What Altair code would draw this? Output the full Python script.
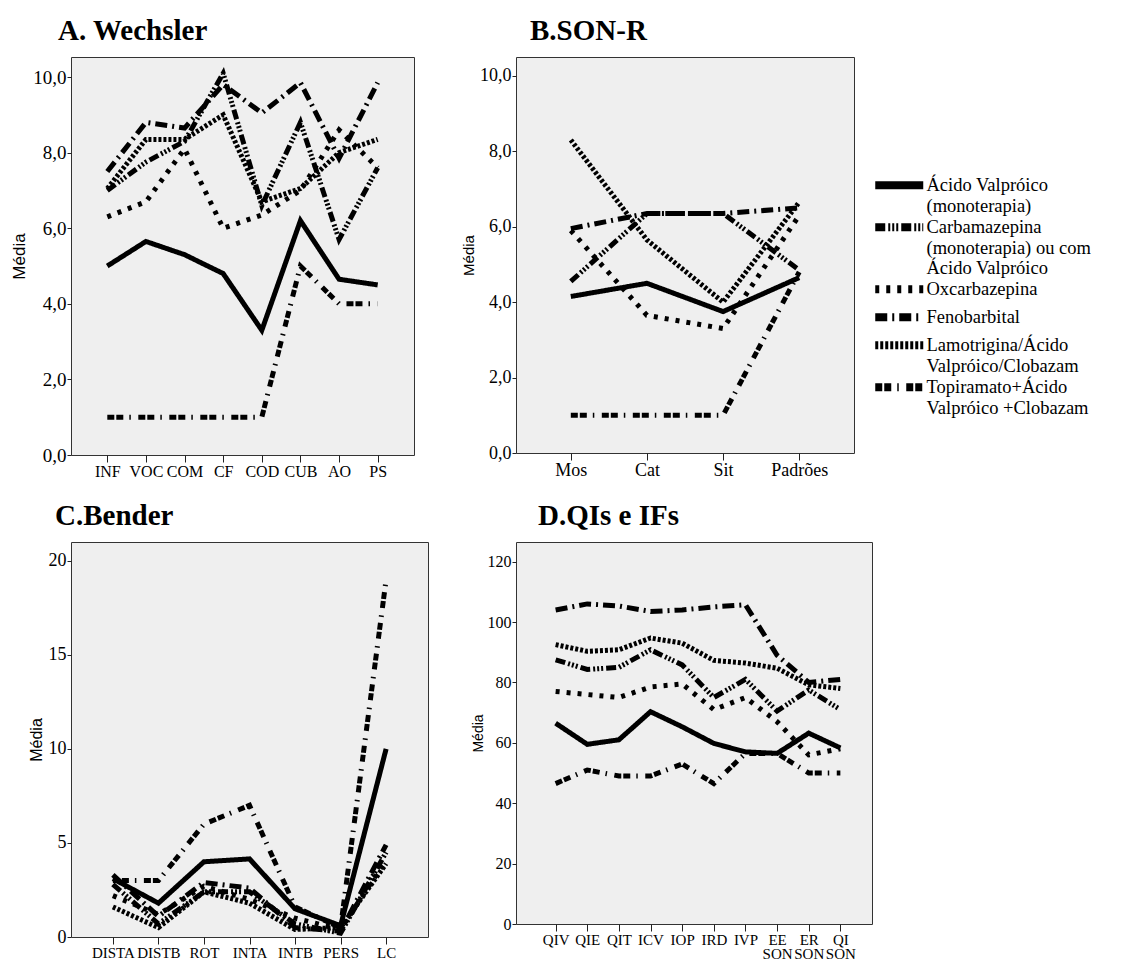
import altair as alt
import pandas as pd

# ---------------- data ----------------
series = [
    "Ácido Valpróico (monoterapia)",
    "Carbamazepina (monoterapia) ou com Ácido Valpróico",
    "Oxcarbazepina",
    "Fenobarbital",
    "Lamotrigina/Ácido Valpróico/Clobazam",
    "Topiramato+Ácido Valpróico +Clobazam",
]
legend_lines = [
    ["Ácido Valpróico", "(monoterapia)"],
    ["Carbamazepina", "(monoterapia) ou com", "Ácido Valpróico"],
    ["Oxcarbazepina"],
    ["Fenobarbital"],
    ["Lamotrigina/Ácido", "Valpróico/Clobazam"],
    ["Topiramato+Ácido", "Valpróico +Clobazam"],
]

# A. Wechsler
cats_a = ["INF", "VOC", "COM", "CF", "COD", "CUB", "AO", "PS"]
a_valproico = [5.0, 5.65, 5.3, 4.8, 3.3, 6.2, 4.65, 4.5]
a_carbamaz = [7.0, 7.75, 8.3, 10.1, 6.6, 8.8, 5.7, 7.6]
a_oxcarb = [6.3, 6.7, 8.1, 6.0, 6.35, 7.0, 8.6, 7.6]
a_fenob = [7.5, 8.8, 8.65, 9.8, 9.05, 9.85, 7.85, 9.85]
a_lamot = [7.05, 8.35, 8.35, 9.0, 6.7, 7.05, 8.0, 8.35]
a_topir = [1.0, 1.0, 1.0, 1.0, 1.0, 5.0, 4.0, 4.0]

# B. SON-R
cats_b = ["Mos", "Cat", "Sit", "Padrões"]
b_valproico = [4.15, 4.5, 3.75, 4.65]
b_carbamaz = [4.55, 6.35, 6.35, 4.85]
b_oxcarb = [5.9, 3.65, 3.3, 6.3]
b_fenob = [5.95, 6.35, 6.35, 6.5]
b_lamot = [8.3, 5.65, 4.0, 6.65]
b_topir = [1.0, 1.0, 1.0, 4.8]

# C. Bender
cats_c = ["DISTA", "DISTB", "ROT", "INTA", "INTB", "PERS", "LC"]
c_valproico = [3.1, 1.8, 4.0, 4.15, 1.5, 0.6, 10.0]
c_carbamaz = [2.8, 0.7, 2.4, 2.4, 0.7, 0.2, 4.5]
c_oxcarb = [2.2, 1.2, 2.7, 2.0, 1.0, 0.4, 4.1]
c_fenob = [3.3, 1.1, 2.9, 2.6, 0.5, 0.3, 4.9]
c_lamot = [1.6, 0.5, 2.4, 1.8, 0.4, 0.5, 3.9]
c_topir = [3.0, 3.0, 6.0, 7.0, 1.6, 0.5, 19.0]

# D. QIs e IFs
cats_d = ["QIV", "QIE", "QIT", "ICV", "IOP", "IRD", "IVP", "EE SON", "ER SON", "QI SON"]
d_valproico = [66.5, 59.5, 61.0, 70.3, 65.3, 59.8, 57.0, 56.5, 63.2, 58.3]
d_carbamaz = [87.5, 84.3, 85.0, 90.8, 85.8, 75.0, 81.0, 70.5, 77.5, 71.0]
d_oxcarb = [77.0, 76.0, 75.0, 78.5, 79.5, 71.0, 75.0, 67.0, 56.0, 58.0]
d_fenob = [104.0, 106.0, 105.3, 103.5, 104.0, 105.0, 105.7, 89.0, 80.0, 81.0]
d_lamot = [92.5, 90.3, 90.8, 94.7, 93.0, 87.3, 86.4, 84.7, 79.2, 78.0]
d_topir = [46.5, 51.0, 49.0, 49.0, 53.0, 46.5, 56.5, 56.5, 50.0, 50.0]

# ---------------- styles ----------------
dashes = [
    [1, 0],
    [10, 3, 2, 2, 2, 2, 2, 3],
    [4, 7],
    [12, 5, 2, 5],
    [3, 2],
    [7, 2, 7, 6, 1.5, 7.5],
]
BG = "#efefef"
SERIF = "Liberation Serif"
SANS = "Liberation Sans"


def long_df(cats, cols):
    rows = []
    for s, vals in zip(series, cols):
        for i, (c, v) in enumerate(zip(cats, vals)):
            rows.append({"cat": c, "val": v, "series": s, "idx": i})
    return pd.DataFrame(rows)


legend_expr = ""
for name, lines in zip(series, legend_lines):
    arr = "[" + ",".join("'" + l + "'" for l in lines) + "]"
    legend_expr += f"datum.value == '{name}' ? {arr} : "
legend_expr += "datum.label"


def panel(cats, cols, title, title_dx, ydom, yvals, ydec, w, h, pad,
          xfs, yfs, tfs, tpad, xlabel_expr=None, with_legend=False, xrange=None,
          xlh=15):
    df = long_df(cats, cols)
    if ydec:
        ylab = "replace(format(datum.value, '.1f'), '.', ',')"
    else:
        ylab = "format(datum.value, 'd')"
    xaxis_kw = dict(
        title=None, labelAngle=0, labelFont=SERIF, labelFontSize=xfs,
        labelColor="black", tickSize=7, tickColor="#222", labelPadding=1,
        domain=False, grid=False, labelLineHeight=xlh,
    )
    if xlabel_expr:
        xaxis_kw["labelExpr"] = xlabel_expr
    xscale_kw = dict(type="point", padding=pad)
    if xrange:
        xscale_kw["range"] = xrange
    if with_legend:
        leg = alt.Legend(
            title=None, orient="none", legendX=374, legendY=119, direction="vertical",
            gridAlign="none",
            symbolType="M-6,0H6", symbolStrokeWidth=8, symbolSize=64,
            symbolStrokeColor="black", symbolFillColor="transparent",
            labelFont=SERIF, labelFontSize=18.5, labelColor="black",
            labelOffset=18, rowPadding=-5, labelExpr=legend_expr, labelLimit=300,
        )
    else:
        leg = None
    return (
        alt.Chart(
            df,
            title=alt.Title(
                title, anchor="start", frame="group", dx=title_dx, offset=-12,
                font=SERIF, fontSize=29, fontWeight="bold", color="black",
                baseline="alphabetic",
            ),
        )
        .mark_line(strokeWidth=5, color="black", strokeJoin="miter", strokeCap="butt")
        .encode(
            x=alt.X("cat:N", sort=cats, scale=alt.Scale(**xscale_kw),
                    axis=alt.Axis(**xaxis_kw)),
            y=alt.Y("val:Q", scale=alt.Scale(domain=ydom, nice=False, zero=False),
                    axis=alt.Axis(values=yvals, labelExpr=ylab, title="Média",
                                  titleFont=SANS, titleFontSize=tfs, titleFontWeight="normal",
                                  titleColor="black", titlePadding=tpad,
                                  labelFont=SERIF, labelFontSize=yfs, labelColor="black",
                                  tickSize=4, tickColor="#222", labelPadding=1,
                                  domain=False, grid=False)),
            strokeDash=alt.StrokeDash(
                "series:N", sort=series,
                scale=alt.Scale(domain=series, range=dashes),
                legend=leg,
            ),
            order=alt.Order("idx:Q"),
        )
        .properties(width=w, height=h)
    )


pA = panel(cats_a, [a_valproico, a_carbamaz, a_oxcarb, a_fenob, a_lamot, a_topir],
           "A. Wechsler", -13, [0, 10.53], [0, 2, 4, 6, 8, 10], True, 343, 398, 0.94,
           16, 19, 17, 4)
pB = panel(cats_b, [b_valproico, b_carbamaz, b_oxcarb, b_fenob, b_lamot, b_topir],
           "B.SON-R", 14, [0, 10.5], [0, 2, 4, 6, 8, 10], True, 338, 396, 0.72,
           18, 18, 15, 3.5, with_legend=True)
pC = panel(cats_c, [c_valproico, c_carbamaz, c_oxcarb, c_fenob, c_lamot, c_topir],
           "C.Bender", -16, [0, 21], [0, 5, 10, 15, 20], False, 357, 395, 0.92,
           15, 18, 16, 3.6)
pD = panel(cats_d, [d_valproico, d_carbamaz, d_oxcarb, d_fenob, d_lamot, d_topir],
           "D.QIs e IFs", 22, [0, 126.5], [0, 20, 40, 60, 80, 100, 120], False, 356, 382, 1.06,
           15, 16, 14, 2, xlabel_expr="split(datum.label, ' ')", xrange=[8, 356], xlh=14)

chart = (
    alt.hconcat(
        alt.vconcat(pA, pC, spacing=21),
        alt.vconcat(pB, pD, spacing=21),
        spacing=31,
    )
    .resolve_scale(strokeDash="independent")
    .resolve_legend(strokeDash="independent")
    .properties(padding={"left": 10, "top": 16, "right": 5, "bottom": 0})
    .configure_view(fill=BG, stroke="#333", strokeWidth=1)
)

chart.save("out.html", embed_options={"renderer": "svg", "actions": False})
